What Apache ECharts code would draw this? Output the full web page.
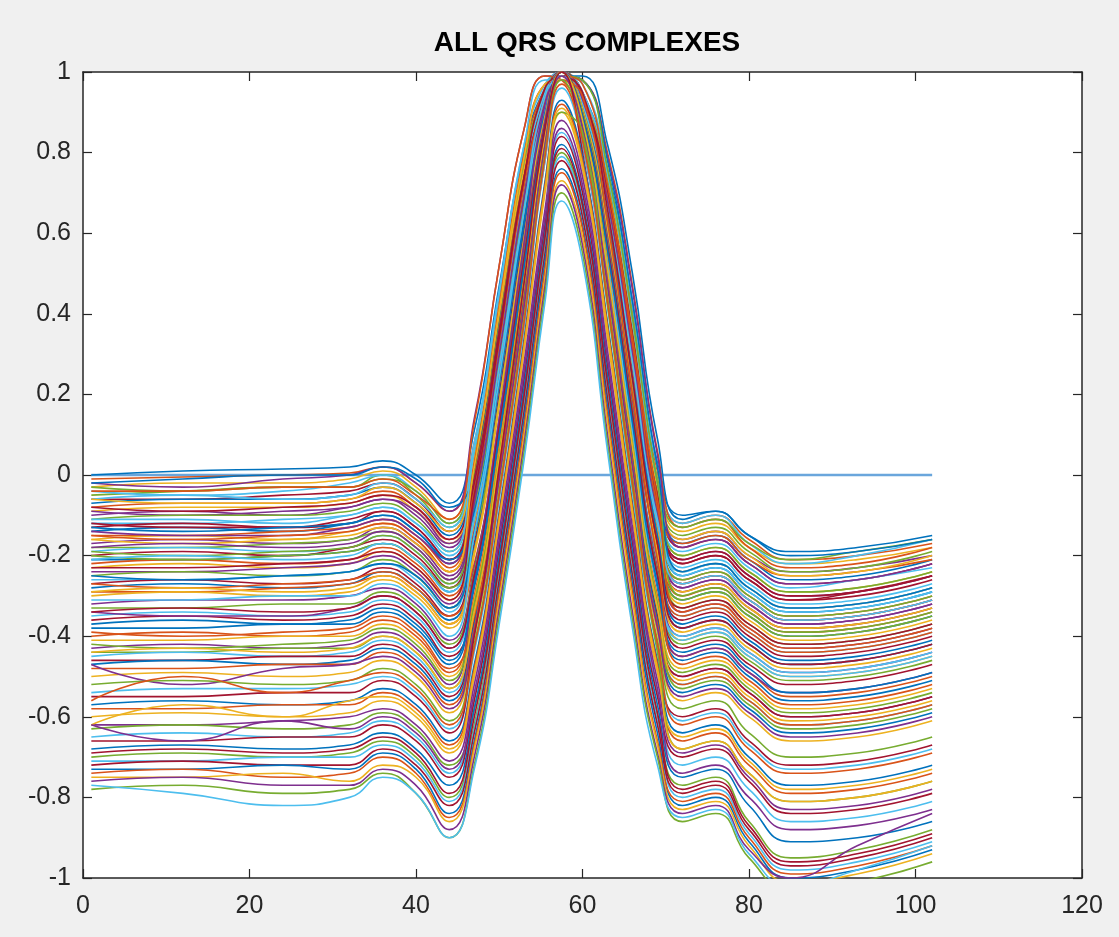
<!DOCTYPE html>
<html>
<head>
<meta charset="utf-8">
<title>ALL QRS COMPLEXES</title>
<script src="https://cdn.jsdelivr.net/npm/echarts@6/dist/echarts.min.js"></script>
<style>
    html, body { margin: 0; padding: 0; background: #f0f0f0; }
    #main { width: 1119px; height: 937px; }
</style>
</head>
<body>
<div id="main"></div>
<script>
// sample positions (x) shared by every beat
var sampleX = [1, 12, 24, 32, 36, 40, 44, 47, 50, 53, 55.5, 57.5, 60, 63, 66, 69, 72, 76, 80, 85, 93, 102];

// flat reference line
var zeroLineX = [1, 102];
var zeroLineY = [0, 0];

// beats, grouped by their starting level
var beatsTop = [
    [0.00, 0.01, 0.015, 0.02, 0.035, 0.00, -0.07, 0.11, 0.47, 0.81, 0.96, 1.00, 0.95, 0.76, 0.43, 0.03, -0.10, -0.09, -0.15, -0.19, -0.18, -0.15],
    [-0.01, -0.005, 0.00, 0.005, 0.02, -0.02, -0.09, 0.08, 0.44, 0.79, 0.96, 1.00, 0.95, 0.74, 0.41, 0.01, -0.12, -0.10, -0.16, -0.21, -0.20, -0.17],
    [-0.03, -0.02, -0.02, -0.01, 0.01, -0.03, -0.11, 0.06, 0.42, 0.78, 0.95, 1.00, 0.94, 0.73, 0.39, -0.01, -0.14, -0.12, -0.18, -0.22, -0.21, -0.18],
    [-0.02, -0.03, -0.01, 0.00, 0.02, -0.02, -0.09, 0.14, 0.52, 0.86, 0.99, 0.99, 0.88, 0.64, 0.30, -0.06, -0.16, -0.14, -0.20, -0.24, -0.23, -0.20],
    [-0.05, -0.04, -0.03, -0.03, 0.00, -0.05, -0.13, 0.04, 0.40, 0.77, 0.95, 1.00, 0.94, 0.72, 0.38, -0.03, -0.15, -0.13, -0.19, -0.24, -0.23, -0.19],
    [-0.04, -0.05, -0.04, -0.02, 0.00, -0.04, -0.12, 0.05, 0.41, 0.77, 0.95, 1.00, 0.95, 0.75, 0.42, 0.02, -0.12, -0.10, -0.17, -0.22, -0.20, -0.16],
    [-0.06, -0.06, -0.05, -0.04, -0.02, -0.06, -0.14, 0.03, 0.39, 0.76, 0.94, 1.00, 0.93, 0.71, 0.36, -0.04, -0.18, -0.16, -0.22, -0.27, -0.26, -0.22],
    [-0.07, -0.06, -0.06, -0.05, -0.03, -0.07, -0.15, 0.02, 0.38, 0.75, 0.94, 1.00, 0.94, 0.72, 0.37, -0.03, -0.17, -0.15, -0.21, -0.26, -0.25, -0.21],
    [-0.08, -0.07, -0.07, -0.06, -0.04, -0.08, -0.16, -0.03, 0.30, 0.68, 0.90, 0.99, 0.98, 0.80, 0.47, 0.06, -0.13, -0.11, -0.18, -0.23, -0.22, -0.18],
    [-0.09, -0.08, -0.08, -0.07, -0.05, -0.09, -0.17, 0.00, 0.36, 0.74, 0.93, 1.00, 0.93, 0.70, 0.35, -0.05, -0.20, -0.18, -0.24, -0.29, -0.28, -0.24],
    [-0.10, -0.09, -0.10, -0.08, -0.06, -0.10, -0.18, -0.01, 0.36, 0.73, 0.93, 1.00, 0.93, 0.70, 0.34, -0.06, -0.21, -0.19, -0.25, -0.30, -0.29, -0.25],
    [-0.03, -0.04, -0.03, -0.03, -0.01, -0.04, -0.12, 0.05, 0.41, 0.78, 0.95, 1.00, 0.94, 0.73, 0.39, -0.01, -0.13, -0.11, -0.17, -0.21, -0.19, -0.16],
    [-0.06, -0.05, -0.06, -0.05, -0.02, -0.06, -0.13, 0.08, 0.46, 0.82, 0.97, 1.00, 0.91, 0.68, 0.33, -0.06, -0.19, -0.17, -0.23, -0.28, -0.26, -0.23],
    [-0.08, -0.09, -0.08, -0.07, -0.05, -0.08, -0.16, 0.01, 0.37, 0.75, 0.94, 1.00, 0.94, 0.71, 0.36, -0.04, -0.22, -0.20, -0.26, -0.31, -0.30, -0.26],
    [-0.02, -0.01, 0.00, 0.00, 0.02, -0.01, -0.08, 0.00, 0.33, 0.70, 0.91, 0.99, 0.99, 0.82, 0.50, 0.09, -0.11, -0.09, -0.15, -0.20, -0.19, -0.16],
    [-0.04, -0.04, -0.03, -0.03, -0.01, -0.05, -0.11, 0.13, 0.52, 0.86, 0.99, 0.98, 0.87, 0.62, 0.28, -0.08, -0.17, -0.15, -0.21, -0.25, -0.24, -0.21],
    [-0.06, -0.07, -0.07, -0.06, -0.03, -0.07, -0.14, 0.04, 0.40, 0.76, 0.94, 1.00, 0.94, 0.72, 0.37, -0.03, -0.16, -0.14, -0.20, -0.25, -0.24, -0.20],
    [-0.09, -0.10, -0.09, -0.08, -0.06, -0.09, -0.17, -0.05, 0.28, 0.66, 0.89, 0.99, 0.98, 0.79, 0.46, 0.05, -0.18, -0.16, -0.22, -0.27, -0.26, -0.22]
];

var beatsUpper = [
    [-0.11, -0.10, -0.10, -0.09, -0.07, -0.11, -0.19, 0.00, 0.37, 0.74, 0.94, 1.00, 0.94, 0.71, 0.35, -0.05, -0.20, -0.18, -0.24, -0.29, -0.28, -0.24],
    [-0.12, -0.12, -0.11, -0.10, -0.08, -0.12, -0.20, -0.02, 0.35, 0.73, 0.93, 1.00, 0.93, 0.70, 0.33, -0.07, -0.23, -0.21, -0.27, -0.32, -0.31, -0.27],
    [-0.13, -0.12, -0.13, -0.12, -0.09, -0.13, -0.21, -0.01, 0.36, 0.74, 0.94, 1.00, 0.94, 0.71, 0.35, -0.05, -0.22, -0.20, -0.26, -0.31, -0.29, -0.25],
    [-0.14, -0.13, -0.14, -0.12, -0.10, -0.14, -0.22, -0.03, 0.34, 0.72, 0.93, 1.00, 0.93, 0.70, 0.33, -0.07, -0.25, -0.23, -0.29, -0.34, -0.33, -0.29],
    [-0.15, -0.15, -0.14, -0.13, -0.11, -0.15, -0.23, 0.03, 0.42, 0.80, 0.97, 0.98, 0.86, 0.60, 0.24, -0.13, -0.26, -0.24, -0.30, -0.35, -0.34, -0.30],
    [-0.16, -0.15, -0.16, -0.14, -0.12, -0.16, -0.24, -0.05, 0.32, 0.71, 0.92, 1.00, 0.93, 0.69, 0.32, -0.08, -0.24, -0.22, -0.28, -0.33, -0.32, -0.28],
    [-0.17, -0.16, -0.17, -0.16, -0.13, -0.17, -0.25, -0.06, 0.31, 0.70, 0.92, 1.00, 0.93, 0.68, 0.31, -0.09, -0.27, -0.25, -0.31, -0.36, -0.35, -0.31],
    [-0.18, -0.18, -0.17, -0.16, -0.14, -0.18, -0.26, -0.07, 0.30, 0.69, 0.92, 1.00, 0.93, 0.68, 0.30, -0.10, -0.26, -0.24, -0.30, -0.35, -0.34, -0.30],
    [-0.19, -0.18, -0.19, -0.18, -0.15, -0.19, -0.27, -0.12, 0.22, 0.61, 0.87, 0.99, 0.97, 0.75, 0.38, -0.02, -0.25, -0.23, -0.29, -0.34, -0.33, -0.29],
    [-0.20, -0.19, -0.20, -0.18, -0.16, -0.20, -0.28, -0.09, 0.28, 0.67, 0.91, 1.00, 0.92, 0.66, 0.28, -0.11, -0.29, -0.27, -0.33, -0.38, -0.37, -0.33],
    [-0.21, -0.21, -0.20, -0.19, -0.17, -0.21, -0.29, -0.10, 0.27, 0.66, 0.91, 1.00, 0.92, 0.66, 0.28, -0.12, -0.31, -0.29, -0.35, -0.40, -0.39, -0.35],
    [-0.22, -0.21, -0.22, -0.21, -0.18, -0.22, -0.30, -0.12, 0.26, 0.65, 0.91, 1.00, 0.92, 0.65, 0.27, -0.12, -0.30, -0.28, -0.34, -0.39, -0.38, -0.34],
    [-0.23, -0.22, -0.23, -0.22, -0.19, -0.23, -0.31, -0.13, 0.25, 0.64, 0.91, 1.00, 0.92, 0.65, 0.26, -0.13, -0.32, -0.30, -0.36, -0.41, -0.40, -0.36],
    [-0.24, -0.24, -0.23, -0.22, -0.20, -0.24, -0.32, -0.14, 0.24, 0.63, 0.90, 1.00, 0.92, 0.64, 0.25, -0.14, -0.34, -0.32, -0.38, -0.43, -0.42, -0.38],
    [-0.25, -0.24, -0.25, -0.24, -0.21, -0.25, -0.33, -0.15, 0.23, 0.63, 0.90, 1.00, 0.91, 0.63, 0.24, -0.15, -0.31, -0.29, -0.35, -0.40, -0.39, -0.35],
    [-0.26, -0.26, -0.25, -0.24, -0.22, -0.26, -0.34, -0.09, 0.30, 0.72, 0.95, 0.99, 0.85, 0.55, 0.16, -0.21, -0.35, -0.33, -0.39, -0.44, -0.43, -0.39],
    [-0.27, -0.26, -0.27, -0.26, -0.23, -0.27, -0.35, -0.17, 0.20, 0.61, 0.90, 1.00, 0.91, 0.62, 0.22, -0.17, -0.36, -0.34, -0.40, -0.45, -0.44, -0.40],
    [-0.28, -0.27, -0.28, -0.27, -0.24, -0.28, -0.36, -0.18, 0.19, 0.60, 0.89, 1.00, 0.91, 0.62, 0.21, -0.18, -0.38, -0.36, -0.42, -0.47, -0.46, -0.42],
    [-0.29, -0.29, -0.28, -0.27, -0.25, -0.29, -0.37, -0.19, 0.18, 0.59, 0.89, 1.00, 0.91, 0.61, 0.20, -0.19, -0.35, -0.33, -0.39, -0.44, -0.43, -0.39],
    [-0.30, -0.29, -0.30, -0.29, -0.26, -0.30, -0.38, -0.20, 0.17, 0.58, 0.89, 1.00, 0.91, 0.60, 0.20, -0.20, -0.39, -0.37, -0.43, -0.48, -0.47, -0.43],
    [-0.14, -0.15, -0.15, -0.13, -0.11, -0.15, -0.22, -0.02, 0.35, 0.73, 0.93, 1.00, 0.93, 0.69, 0.32, -0.08, -0.28, -0.26, -0.32, -0.37, -0.36, -0.32],
    [-0.19, -0.20, -0.19, -0.18, -0.15, -0.19, -0.27, -0.08, 0.29, 0.68, 0.91, 1.00, 0.92, 0.67, 0.29, -0.10, -0.33, -0.31, -0.37, -0.42, -0.41, -0.37],
    [-0.11, -0.11, -0.12, -0.10, -0.08, -0.12, -0.19, 0.06, 0.45, 0.82, 0.98, 0.98, 0.86, 0.60, 0.24, -0.12, -0.24, -0.22, -0.28, -0.33, -0.32, -0.28],
    [-0.12, -0.13, -0.13, -0.11, -0.09, -0.13, -0.21, -0.02, 0.35, 0.73, 0.93, 1.00, 0.93, 0.70, 0.33, -0.07, -0.21, -0.19, -0.25, -0.30, -0.29, -0.25],
    [-0.13, -0.14, -0.13, -0.12, -0.10, -0.14, -0.21, -0.09, 0.24, 0.63, 0.88, 0.99, 0.98, 0.78, 0.43, 0.02, -0.24, -0.22, -0.28, -0.33, -0.32, -0.28],
    [-0.15, -0.16, -0.15, -0.14, -0.12, -0.16, -0.24, -0.04, 0.33, 0.72, 0.93, 1.00, 0.93, 0.69, 0.32, -0.08, -0.27, -0.25, -0.31, -0.36, -0.35, -0.31],
    [-0.16, -0.17, -0.16, -0.15, -0.13, -0.17, -0.24, 0.02, 0.41, 0.79, 0.97, 0.98, 0.86, 0.59, 0.23, -0.14, -0.29, -0.27, -0.33, -0.38, -0.37, -0.33],
    [-0.18, -0.17, -0.18, -0.17, -0.14, -0.18, -0.26, -0.07, 0.30, 0.69, 0.92, 1.00, 0.93, 0.68, 0.30, -0.10, -0.28, -0.26, -0.32, -0.37, -0.36, -0.32],
    [-0.20, -0.21, -0.20, -0.19, -0.17, -0.21, -0.28, -0.15, 0.18, 0.57, 0.85, 0.99, 0.98, 0.76, 0.39, -0.02, -0.30, -0.28, -0.34, -0.39, -0.38, -0.34],
    [-0.21, -0.20, -0.21, -0.20, -0.17, -0.21, -0.29, -0.11, 0.27, 0.66, 0.91, 1.00, 0.92, 0.66, 0.28, -0.11, -0.27, -0.25, -0.31, -0.36, -0.35, -0.31],
    [-0.23, -0.23, -0.22, -0.21, -0.19, -0.23, -0.31, -0.05, 0.34, 0.74, 0.96, 0.99, 0.86, 0.57, 0.19, -0.18, -0.33, -0.31, -0.37, -0.42, -0.41, -0.37],
    [-0.25, -0.26, -0.25, -0.24, -0.22, -0.25, -0.33, -0.15, 0.23, 0.63, 0.90, 1.00, 0.91, 0.63, 0.24, -0.15, -0.37, -0.35, -0.41, -0.46, -0.45, -0.41],
    [-0.27, -0.28, -0.27, -0.26, -0.24, -0.28, -0.35, -0.22, 0.12, 0.52, 0.83, 0.99, 0.97, 0.72, 0.34, -0.06, -0.34, -0.32, -0.38, -0.43, -0.42, -0.38],
    [-0.29, -0.28, -0.29, -0.28, -0.25, -0.29, -0.37, -0.19, 0.18, 0.59, 0.89, 1.00, 0.91, 0.61, 0.20, -0.19, -0.41, -0.39, -0.45, -0.50, -0.49, -0.45]
];

var beatsMiddle = [
    [-0.32, -0.31, -0.31, -0.30, -0.28, -0.32, -0.41, -0.23, 0.14, 0.56, 0.88, 1.00, 0.90, 0.59, 0.17, -0.23, -0.40, -0.38, -0.44, -0.49, -0.48, -0.44],
    [-0.33, -0.33, -0.32, -0.32, -0.29, -0.33, -0.42, -0.24, 0.13, 0.55, 0.87, 1.00, 0.90, 0.58, 0.16, -0.24, -0.42, -0.40, -0.46, -0.51, -0.50, -0.46],
    [-0.35, -0.34, -0.35, -0.34, -0.31, -0.35, -0.44, -0.26, 0.11, 0.53, 0.87, 1.00, 0.89, 0.57, 0.14, -0.26, -0.41, -0.39, -0.45, -0.50, -0.49, -0.45],
    [-0.36, -0.35, -0.36, -0.35, -0.32, -0.36, -0.45, -0.32, 0.04, 0.45, 0.80, 0.99, 0.95, 0.66, 0.24, -0.17, -0.38, -0.36, -0.42, -0.47, -0.46, -0.42],
    [-0.38, -0.38, -0.37, -0.37, -0.34, -0.38, -0.47, -0.28, 0.09, 0.51, 0.86, 1.00, 0.89, 0.55, 0.12, -0.28, -0.46, -0.44, -0.50, -0.56, -0.55, -0.51],
    [-0.40, -0.39, -0.40, -0.39, -0.36, -0.40, -0.49, -0.30, 0.07, 0.50, 0.85, 1.00, 0.88, 0.54, 0.10, -0.30, -0.45, -0.43, -0.49, -0.55, -0.54, -0.50],
    [-0.41, -0.41, -0.40, -0.40, -0.37, -0.41, -0.50, -0.31, 0.06, 0.49, 0.85, 1.00, 0.88, 0.53, 0.09, -0.31, -0.48, -0.46, -0.52, -0.58, -0.57, -0.53],
    [-0.43, -0.42, -0.43, -0.42, -0.39, -0.43, -0.52, -0.26, 0.14, 0.58, 0.92, 0.99, 0.82, 0.44, 0.00, -0.38, -0.50, -0.48, -0.54, -0.60, -0.59, -0.55],
    [-0.44, -0.44, -0.43, -0.43, -0.40, -0.44, -0.53, -0.34, 0.04, 0.47, 0.84, 1.00, 0.88, 0.51, 0.07, -0.33, -0.49, -0.47, -0.53, -0.59, -0.58, -0.54],
    [-0.45, -0.44, -0.45, -0.44, -0.41, -0.45, -0.54, -0.35, 0.03, 0.46, 0.84, 1.00, 0.88, 0.51, 0.06, -0.34, -0.52, -0.50, -0.56, -0.62, -0.61, -0.57],
    [-0.46, -0.46, -0.45, -0.45, -0.42, -0.46, -0.55, -0.36, 0.02, 0.45, 0.83, 1.00, 0.87, 0.50, 0.05, -0.35, -0.50, -0.48, -0.54, -0.60, -0.59, -0.55],
    [-0.47, -0.46, -0.47, -0.46, -0.43, -0.47, -0.56, -0.37, 0.01, 0.44, 0.83, 0.99, 0.87, 0.49, 0.04, -0.36, -0.54, -0.52, -0.58, -0.64, -0.63, -0.59],
    [-0.48, -0.48, -0.47, -0.47, -0.44, -0.48, -0.57, -0.38, 0.00, 0.43, 0.82, 0.99, 0.86, 0.48, 0.03, -0.37, -0.52, -0.50, -0.56, -0.62, -0.61, -0.57],
    [-0.50, -0.49, -0.50, -0.49, -0.46, -0.50, -0.59, -0.40, -0.02, 0.41, 0.81, 0.99, 0.85, 0.46, 0.01, -0.39, -0.56, -0.54, -0.60, -0.66, -0.65, -0.61],
    [-0.34, -0.35, -0.35, -0.33, -0.30, -0.34, -0.43, -0.25, 0.12, 0.54, 0.87, 1.00, 0.89, 0.57, 0.15, -0.25, -0.45, -0.43, -0.49, -0.54, -0.53, -0.49],
    [-0.42, -0.43, -0.42, -0.41, -0.38, -0.42, -0.51, -0.32, 0.05, 0.48, 0.85, 1.00, 0.88, 0.52, 0.08, -0.32, -0.53, -0.51, -0.57, -0.63, -0.62, -0.58],
    [-0.31, -0.31, -0.30, -0.30, -0.27, -0.31, -0.40, -0.15, 0.24, 0.66, 0.94, 0.99, 0.84, 0.52, 0.11, -0.27, -0.40, -0.38, -0.44, -0.49, -0.48, -0.44],
    [-0.34, -0.33, -0.34, -0.33, -0.30, -0.34, -0.43, -0.25, 0.12, 0.54, 0.87, 1.00, 0.89, 0.57, 0.15, -0.25, -0.43, -0.41, -0.47, -0.52, -0.51, -0.47],
    [-0.37, -0.36, -0.37, -0.36, -0.33, -0.37, -0.46, -0.27, 0.10, 0.52, 0.86, 1.00, 0.89, 0.56, 0.13, -0.27, -0.44, -0.42, -0.48, -0.54, -0.53, -0.49],
    [-0.39, -0.40, -0.39, -0.38, -0.35, -0.39, -0.48, -0.35, 0.01, 0.42, 0.78, 0.98, 0.94, 0.63, 0.20, -0.21, -0.47, -0.45, -0.51, -0.57, -0.56, -0.52],
    [-0.44, -0.43, -0.44, -0.43, -0.40, -0.44, -0.53, -0.34, 0.04, 0.47, 0.84, 1.00, 0.88, 0.51, 0.07, -0.33, -0.51, -0.49, -0.55, -0.61, -0.60, -0.56],
    [-0.47, -0.52, -0.48, -0.47, -0.45, -0.49, -0.58, -0.39, -0.01, 0.42, 0.82, 0.99, 0.86, 0.47, 0.02, -0.38, -0.55, -0.53, -0.59, -0.65, -0.64, -0.60]
];

var beatsLower = [
    [-0.52, -0.51, -0.52, -0.51, -0.48, -0.52, -0.61, -0.42, -0.04, 0.39, 0.80, 0.98, 0.84, 0.44, -0.01, -0.41, -0.58, -0.56, -0.64, -0.70, -0.69, -0.65],
    [-0.54, -0.53, -0.53, -0.52, -0.50, -0.54, -0.63, -0.44, -0.06, 0.37, 0.78, 0.96, 0.82, 0.42, -0.04, -0.43, -0.61, -0.59, -0.67, -0.73, -0.72, -0.68],
    [-0.55, -0.55, -0.54, -0.54, -0.51, -0.55, -0.64, -0.40, 0.02, 0.48, 0.86, 1.00, 0.80, 0.36, -0.10, -0.48, -0.60, -0.58, -0.66, -0.72, -0.71, -0.67],
    [-0.57, -0.56, -0.57, -0.56, -0.53, -0.57, -0.66, -0.47, -0.09, 0.34, 0.73, 0.93, 0.79, 0.38, -0.07, -0.46, -0.64, -0.62, -0.70, -0.77, -0.76, -0.72],
    [-0.58, -0.58, -0.57, -0.57, -0.54, -0.58, -0.67, -0.48, -0.10, 0.33, 0.72, 0.92, 0.78, 0.37, -0.08, -0.47, -0.66, -0.64, -0.72, -0.79, -0.78, -0.74],
    [-0.60, -0.59, -0.60, -0.59, -0.56, -0.60, -0.69, -0.50, -0.12, 0.31, 0.70, 0.90, 0.76, 0.34, -0.10, -0.49, -0.65, -0.63, -0.71, -0.78, -0.77, -0.73],
    [-0.62, -0.62, -0.61, -0.60, -0.58, -0.62, -0.71, -0.52, -0.14, 0.28, 0.66, 0.88, 0.74, 0.31, -0.13, -0.51, -0.69, -0.67, -0.75, -0.83, -0.82, -0.78],
    [-0.63, -0.62, -0.63, -0.62, -0.59, -0.63, -0.72, -0.58, -0.22, 0.20, 0.62, 0.90, 0.85, 0.42, -0.03, -0.44, -0.68, -0.66, -0.74, -0.81, -0.80, -0.76],
    [-0.65, -0.64, -0.65, -0.64, -0.61, -0.65, -0.74, -0.55, -0.17, 0.25, 0.63, 0.85, 0.71, 0.28, -0.16, -0.54, -0.72, -0.70, -0.78, -0.86, -0.85, -0.81],
    [-0.66, -0.66, -0.65, -0.65, -0.62, -0.66, -0.75, -0.56, -0.18, 0.24, 0.62, 0.84, 0.70, 0.27, -0.17, -0.55, -0.70, -0.68, -0.76, -0.84, -0.83, -0.79],
    [-0.68, -0.67, -0.68, -0.67, -0.64, -0.68, -0.77, -0.58, -0.20, 0.22, 0.60, 0.82, 0.68, 0.25, -0.19, -0.57, -0.75, -0.73, -0.82, -0.91, -0.90, -0.86],
    [-0.56, -0.50, -0.54, -0.51, -0.49, -0.53, -0.62, -0.43, -0.05, 0.38, 0.79, 0.97, 0.83, 0.43, -0.02, -0.42, -0.62, -0.60, -0.68, -0.74, -0.73, -0.69],
    [-0.62, -0.57, -0.60, -0.56, -0.55, -0.59, -0.68, -0.49, -0.11, 0.32, 0.71, 0.91, 0.77, 0.36, -0.09, -0.48, -0.68, -0.66, -0.74, -0.81, -0.80, -0.76],
    [-0.62, -0.66, -0.61, -0.63, -0.60, -0.64, -0.73, -0.54, -0.16, 0.26, 0.64, 0.86, 0.72, 0.29, -0.15, -0.53, -0.74, -0.72, -0.80, -0.88, -0.87, -0.83]
];

var beatsBottom = [
    [-0.70, -0.69, -0.70, -0.69, -0.66, -0.70, -0.80, -0.62, -0.24, 0.18, 0.57, 0.80, 0.66, 0.21, -0.23, -0.60, -0.77, -0.75, -0.86, -0.95, -0.93, -0.88],
    [-0.71, -0.71, -0.70, -0.70, -0.67, -0.71, -0.81, -0.63, -0.25, 0.17, 0.56, 0.79, 0.65, 0.20, -0.24, -0.61, -0.80, -0.78, -0.89, -0.98, -0.96, -0.91],
    [-0.72, -0.71, -0.72, -0.72, -0.68, -0.72, -0.82, -0.64, -0.26, 0.16, 0.55, 0.78, 0.64, 0.19, -0.25, -0.62, -0.79, -0.77, -0.88, -0.97, -0.95, -0.90],
    [-0.73, -0.73, -0.72, -0.73, -0.69, -0.73, -0.84, -0.66, -0.28, 0.14, 0.53, 0.76, 0.62, 0.17, -0.27, -0.64, -0.82, -0.80, -0.91, -1.00, -0.98, -0.93],
    [-0.74, -0.73, -0.75, -0.74, -0.70, -0.74, -0.85, -0.67, -0.29, 0.12, 0.51, 0.75, 0.61, 0.15, -0.29, -0.66, -0.81, -0.79, -0.90, -0.99, -0.97, -0.92],
    [-0.75, -0.75, -0.74, -0.76, -0.72, -0.75, -0.86, -0.68, -0.31, 0.10, 0.49, 0.73, 0.59, 0.13, -0.31, -0.67, -0.83, -0.81, -0.92, -1.01, -0.99, -0.94],
    [-0.76, -0.75, -0.77, -0.77, -0.73, -0.77, -0.88, -0.70, -0.33, 0.08, 0.47, 0.72, 0.57, 0.10, -0.34, -0.69, -0.84, -0.82, -0.93, -1.00, -0.92, -0.84],
    [-0.78, -0.77, -0.79, -0.78, -0.74, -0.79, -0.90, -0.72, -0.35, 0.06, 0.45, 0.70, 0.55, 0.08, -0.36, -0.70, -0.86, -0.84, -0.95, -1.03, -1.01, -0.96],
    [-0.77, -0.79, -0.82, -0.80, -0.75, -0.79, -0.90, -0.73, -0.37, 0.04, 0.43, 0.68, 0.53, 0.06, -0.38, -0.72, -0.85, -0.83, -0.94, -1.02, -0.98, -0.92],
    [-0.69, -0.68, -0.69, -0.68, -0.65, -0.69, -0.79, -0.60, -0.22, 0.20, 0.59, 0.81, 0.67, 0.23, -0.21, -0.59, -0.78, -0.76, -0.87, -0.96, -0.94, -0.89]
];

var myChart = echarts.init(document.getElementById('main'));

// matlab default colour order
var lineColors = ['#0072BD', '#D95319', '#EDB120', '#7E2F8E', '#77AC30', '#4DBEEE', '#A2142F'];
var axisColor = '#262626';
var fontFamily = '"Liberation Sans", Arial, Helvetica, sans-serif';

var allBeats = beatsTop.concat(beatsUpper, beatsMiddle, beatsLower, beatsBottom);

var series = [{
    type: 'line',
    data: zeroLineX.map(function (x, i) { return [x, zeroLineY[i]]; }),
    symbol: 'none',
    silent: true,
    z: 1,
    lineStyle: { color: '#6aa6dc', width: 2.5 }
}];

allBeats.forEach(function (beat, k) {
    series.push({
        type: 'line',
        data: beat.map(function (y, i) { return [sampleX[i], y]; }),
        symbol: 'none',
        smooth: 0.5,
        silent: true,
        z: 2,
        lineStyle: { color: lineColors[k % lineColors.length], width: 1.6 }
    });
});

function axisBase(show) {
    return {
        axisLine: { show: true, onZero: false, lineStyle: { color: axisColor, width: 1.5 } },
        axisTick: { show: true, inside: true, length: 9, lineStyle: { color: axisColor, width: 1.2 } },
        axisLabel: {
            show: show,
            color: axisColor,
            fontSize: 25,
            fontFamily: fontFamily
        },
        splitLine: { show: false }
    };
}

var xBottom = axisBase(true);
xBottom.type = 'value'; xBottom.min = 0; xBottom.max = 120; xBottom.interval = 20; xBottom.position = 'bottom';
xBottom.axisLabel.margin = 16;
var xTop = axisBase(false);
xTop.type = 'value'; xTop.min = 0; xTop.max = 120; xTop.interval = 20; xTop.position = 'top';

var yLeft = axisBase(true);
yLeft.type = 'value'; yLeft.min = -1; yLeft.max = 1; yLeft.interval = 0.2; yLeft.position = 'left';
yLeft.axisLabel.margin = 12;
yLeft.axisLabel.formatter = function (v) { return String(Math.round(v * 10) / 10); };
var yRight = axisBase(false);
yRight.type = 'value'; yRight.min = -1; yRight.max = 1; yRight.interval = 0.2; yRight.position = 'right';

var option = {
    backgroundColor: '#f0f0f0',
    animation: false,
    title: {
        text: 'ALL QRS COMPLEXES',
        left: 582,
        top: 24,
        textAlign: 'center',
        textStyle: { color: '#000', fontSize: 28, fontWeight: 'bold', fontFamily: fontFamily }
    },
    grid: {
        left: 83, right: 37, top: 72, bottom: 59,
        containLabel: false,
        outerBoundsMode: 'none',
        show: true,
        backgroundColor: '#ffffff',
        borderWidth: 0
    },
    xAxis: [xBottom, xTop],
    yAxis: [yLeft, yRight],
    series: series
};

myChart.setOption(option);
</script>
</body>
</html>
